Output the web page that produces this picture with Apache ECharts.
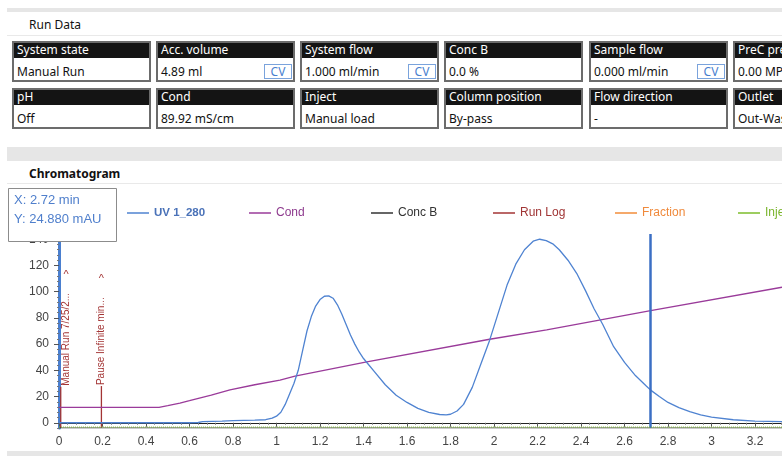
<!DOCTYPE html>
<html><head><meta charset="utf-8">
<script src="https://cdn.jsdelivr.net/npm/echarts@6/dist/echarts.min.js"></script>
<style>
html,body{margin:0;padding:0;width:782px;height:456px;overflow:hidden;background:#fff;font-family:"Noto Sans",sans-serif;}
.band{position:absolute;left:7px;right:0;background:#e6e6e6;}
.rule{position:absolute;left:7px;right:0;height:1px;background:#e9e9e9;}
.title{position:absolute;left:29px;font-size:12px;color:#111;line-height:16px;white-space:nowrap;}
.cell{position:absolute;width:139px;height:41px;box-sizing:border-box;border:2px solid #6c6c6c;background:#fff;overflow:hidden;}
.cell .h{height:15px;background:#141414;color:#fff;font-size:12px;line-height:14px;padding-left:3px;white-space:nowrap;}
.cell .v{height:22px;font-size:12px;line-height:27px;padding-left:3px;color:#111;position:relative;white-space:nowrap;}
.cv{position:absolute;right:1px;top:6px;width:26px;height:13px;border:1px solid #7aa3dc;color:#4a7fcf;font-size:12px;line-height:13px;text-align:center;}
#chart{position:absolute;left:0;top:0;width:782px;height:456px;}
</style></head>
<body>
<div class="band" style="top:8px;height:4px"></div>
<div class="title" style="top:17px">Run Data</div>
<div class="rule" style="top:35px"></div>
<div id="panel"></div>
<div class="band" style="top:147px;height:14px"></div>
<div class="title" style="top:166px;font-weight:bold">Chromatogram</div>
<div class="rule" style="top:183px"></div>
<div class="band" style="top:451px;height:5px"></div>
<div id="chart"></div>
<script>
// ---- Run Data panel ----
const row1Labels = ['System state','Acc. volume','System flow','Conc B','Sample flow','PreC pressure'];
const row1Values = ['Manual Run','4.89 ml','1.000 ml/min','0.0 %','0.000 ml/min','0.00 MPa'];
const row1CV     = [false,true,true,false,true,false];
const row2Labels = ['pH','Cond','Inject','Column position','Flow direction','Outlet'];
const row2Values = ['Off','89.92 mS/cm','Manual load','By-pass','-','Out-Waste'];
const row2CV     = [false,false,false,false,false,false];

// ---- Chromatogram data (x in min) ----
const uvX = [0,0.3,0.6,0.64,0.66,0.75,0.8,0.9,0.95,0.98,1.0,1.02,1.04,1.06,1.08,1.1,1.12,1.14,1.16,1.18,1.2,1.22,1.24,1.26,1.28,1.3,1.32,1.34,1.36,1.38,1.4,1.42,1.45,1.5,1.55,1.6,1.65,1.7,1.75,1.78,1.8,1.83,1.86,1.9,1.94,1.98,2.02,2.06,2.1,2.14,2.18,2.21,2.24,2.27,2.3,2.34,2.38,2.42,2.46,2.5,2.55,2.6,2.65,2.7,2.72,2.76,2.8,2.85,2.9,2.95,3.0,3.1,3.2,3.324];
const uvY = [0,0,0,0.2,0.8,1.2,1.6,2,2.3,3.5,5,8,14,22,30,40,55,70,81,89,94,96.5,96.8,95,90,83,75,67,60,54,49,45,39,29,21,15.5,11,8,6.3,6,6.5,9,14,27,45,63,84,105,121,132,138.5,140,139,136.5,132,124,114,101,87,75,58,46,36,28,24.9,20,15.5,11.5,8.5,6,4.3,2.3,1.3,0.8];
const condX = [0,0.46,0.5,0.556,0.6,0.65,0.7,0.786,0.9,1.016,1.085,1.415,1.98,2.242,2.72,3.324];
const condY = [11.8,11.8,13,14.9,16.8,19,21,25,29,32.6,35.5,46.5,63.7,70.8,85.6,103.4];
const concBX = [0,3.324];
const concBY = [-4,-4];
const injX = [0,3.324];
const injY = [-3.3,-3.3];
const fracX = [];
const fracY = [];
const runLogX = [0.008,0.195];
const runLogTop = [27.5,28];
const runLogLabels = ['Manual Run 7/25/2...','Pause Infinite min...'];
const cursorX = 2.72;
const cursorY = 24.880;
const legendNames = ['UV 1_280','Cond','Conc B','Run Log','Fraction','Injection'];
const legendColors = ['#4f83d1','#9a3b9a','#333333','#a33434','#f28c3a','#7cbc2b'];
const legendTextColors = ['#4a72b8','#8e3b8e','#333333','#a03535','#f08a3c','#7ab52c'];
const xMin = 0, xMax = 3.324, xStep = 0.2;
const yMin = -4, yMax = 144, yMinor = 4;
const yLabelValues = [0,20,40,60,80,100,120,140];

// build panel
const panel = document.getElementById('panel');
const lefts = [12,156,300,444,589,733];
function addRow(labels, values, cv, top){
  labels.forEach((lab,i)=>{
    const d = document.createElement('div');
    d.className='cell'; d.style.left=lefts[i]+'px'; d.style.top=top+'px';
    d.innerHTML = '<div class="h">'+lab+'</div><div class="v">'+values[i]+(cv[i]?'<span class="cv">CV</span>':'')+'</div>';
    panel.appendChild(d);
  });
}
addRow(row1Labels,row1Values,row1CV,41);
addRow(row2Labels,row2Values,row2CV,88);

// chart
const pairs = (xs,ys)=>xs.map((x,i)=>[x,ys[i]]);
const FONT = '"Liberation Sans", Arial, sans-serif';
const mctx = document.createElement('canvas').getContext('2d');
mctx.font = '10px "Liberation Sans"';
const chart = echarts.init(document.getElementById('chart'));
const legendLefts = [127,249,371,493,615,738];
const option = {
  animation:false,
  textStyle:{fontFamily:FONT},
  grid:{left:59,right:0,top:234,bottom:28},
  legend: legendNames.map((n,i)=>({
    data:[n], left:legendLefts[i], top:207, padding:0, icon:'rect', itemWidth:22, itemHeight:1.5,
    textStyle:{color:legendTextColors[i], fontSize: i===0?11.5:12, fontWeight: i===0?'bold':'normal', fontFamily:FONT}
  })),
  xAxis:{type:'value',min:xMin,max:xMax,interval:xStep,
    axisLine:{lineStyle:{color:'#222',width:1}},
    axisTick:{length:4,lineStyle:{color:'#555'}},
    minorTick:{show:true,splitNumber:5,length:2,lineStyle:{color:'#777'}},
    splitLine:{show:false},
    axisLabel:{showMaxLabel:false,color:'#444',fontSize:12,margin:8,fontFamily:FONT}},
  yAxis:[
    {type:'value',min:yMin,max:yMax,interval:yMinor,
     axisLine:{show:true,lineStyle:{color:'#4a7fcf',width:3}},
     axisTick:{show:true,length:2,lineStyle:{color:'#777'}},
     splitLine:{show:false},
     axisLabel:{color:'#444',fontSize:12,margin:10,fontFamily:FONT,
       formatter:v=>{const r=Math.round(v);return yLabelValues.indexOf(r)>=0?String(r):'';}}},
    {type:'value',min:yMin,max:yMax,position:'left',
     axisLine:{show:false},
     axisTick:{show:true,length:5,customValues:yLabelValues,lineStyle:{color:'#555'}},
     axisLabel:{show:false},splitLine:{show:false}}
  ],
  series:[
    {name:'UV 1_280',type:'line',data:pairs(uvX,uvY),symbol:'none',color:legendColors[0],
     lineStyle:{width:1.3},z:4,
     markLine:{symbol:'none',silent:true,label:{show:false},
       lineStyle:{color:'#3b6fc4',width:2.5,type:'solid'},data:[{xAxis:cursorX}]}},
    {name:'Cond',type:'line',data:pairs(condX,condY),symbol:'none',color:legendColors[1],lineStyle:{width:1.3},z:3},
    {name:'Conc B',type:'line',data:pairs(concBX,concBY),symbol:'none',color:legendColors[2],lineStyle:{width:1},z:2},
    {name:'Run Log',type:'custom',color:legendColors[3],itemStyle:{color:legendColors[3]},
     data:runLogX.map((x,i)=>[x,runLogTop[i],i]),
     renderItem:(params,api)=>{
       const i=api.value(2);
       const top=api.coord([api.value(0),api.value(1)]);
       const bot=api.coord([api.value(0),yMin]);
       const label=runLogLabels[i];
       const tw=mctx.measureText(label).width;
       const tx=Math.max(top[0],params.coordSys.x+7);
       const c=legendColors[3];
       return {type:'group',children:[
         {type:'line',shape:{x1:top[0],y1:top[1],x2:bot[0],y2:bot[1]},style:{stroke:c,lineWidth:1.3}},
         {type:'text',x:tx,y:top[1]-1,rotation:Math.PI/2,style:{text:label,fill:c,font:'10px '+FONT,align:'left',verticalAlign:'middle'}},
         {type:'text',x:tx,y:top[1]-1-tw-18,style:{text:'^',fill:c,font:'11px '+FONT,align:'center',verticalAlign:'middle'}}
       ]};
     }},
    {name:'Fraction',type:'line',data:pairs(fracX,fracY),symbol:'none',color:legendColors[4]},
    {name:'Injection',type:'line',data:pairs(injX,injY),symbol:'none',color:legendColors[5],lineStyle:{width:1,type:'dotted'},z:5}
  ],
  graphic:{elements:[
    {type:'rect',z:200,zlevel:1,shape:{x:8.5,y:188.5,width:108,height:53},style:{fill:'#fff',stroke:'#8c8c8c',lineWidth:1}},
    {type:'text',z:201,zlevel:1,x:14,y:200,style:{text:'X: '+cursorX.toFixed(2)+' min',fill:'#4f7fcc',font:'13px '+FONT,verticalAlign:'middle'}},
    {type:'text',z:201,zlevel:1,x:14,y:219,style:{text:'Y: '+cursorY.toFixed(3)+' mAU',fill:'#4f7fcc',font:'13px '+FONT,verticalAlign:'middle'}}
  ]}
};
chart.setOption(option);
</script>
</body></html>
